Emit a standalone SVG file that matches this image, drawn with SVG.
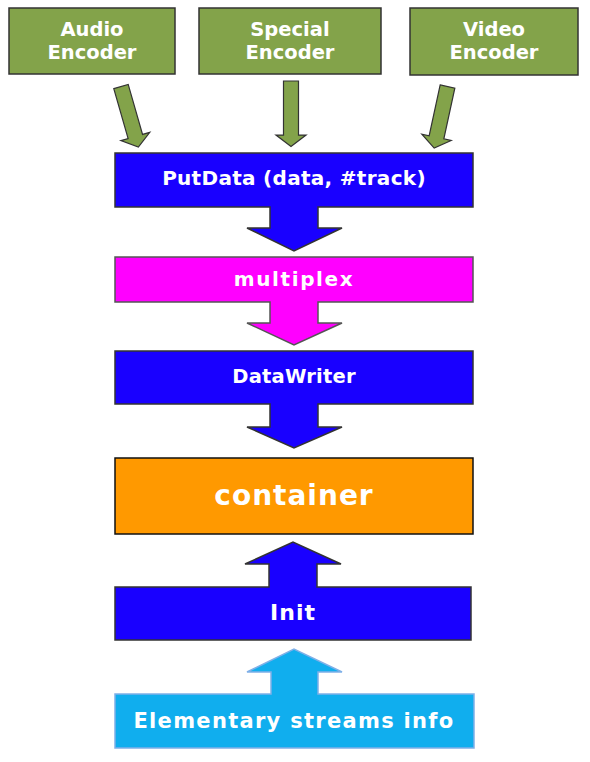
<svg xmlns="http://www.w3.org/2000/svg" width="590" height="762" viewBox="0 0 590 762">
<style>
text{font-family:"DejaVu Sans","Verdana",sans-serif;font-weight:bold;fill:#fff;text-anchor:middle}
.enc{fill:#83A34A;stroke:#333;stroke-width:1.5}
.garrow{fill:#83A34A;stroke:#333;stroke-width:1.2}
.blue{fill:#1900FF;stroke:#333;stroke-width:1.5}
.t19{font-size:19.5px}
</style>
<defs>
<path id="garr" d="M-7.5,0 H7.5 V52 H15 L0,63 L-15,52 H-7.5 Z"/>
</defs>
<rect width="590" height="762" fill="#fff"/>
<g id="audio-encoder">
<rect class="enc" x="9" y="8" width="166" height="66"/>
<text class="t19" x="92" y="36">Audio</text>
<text class="t19" x="92" y="59">Encoder</text>
</g>
<g id="special-encoder">
<rect class="enc" x="199" y="8" width="182" height="66"/>
<text class="t19" x="290" y="36">Special</text>
<text class="t19" x="290" y="59">Encoder</text>
</g>
<g id="video-encoder">
<rect class="enc" x="410" y="8" width="168" height="67"/>
<text class="t19" x="494" y="36">Video</text>
<text class="t19" x="494" y="59">Encoder</text>
</g>
<g id="connectors">
<use href="#garr" class="garrow" transform="translate(121,86.5) rotate(-16)"/>
<use href="#garr" class="garrow" transform="translate(291,81) scale(1,1.04)"/>
<use href="#garr" class="garrow" transform="translate(447.5,86.5) rotate(12.2)"/>
</g>
<g id="putdata">
<path class="blue" d="M115,153 H473 V207 H318 V228 H342 L294,251 L247,228 H270 V207 H115 Z"/>
<text x="294" y="185" font-size="20" letter-spacing="0.3">PutData (data, #track)</text>
</g>
<g id="multiplex">
<path fill="#FF00FF" stroke="#555" stroke-width="1.5" d="M115,257 H473 V302 H318 V323 H342 L294,345 L247,323 H270 V302 H115 Z"/>
<text x="294" y="286" font-size="20" letter-spacing="1.6">multiplex</text>
</g>
<g id="datawriter">
<path class="blue" d="M115,351 H473 V404 H318 V427 H342 L294,448 L247,427 H270 V404 H115 Z"/>
<text x="294" y="383" font-size="19.5" letter-spacing="0.2">DataWriter</text>
</g>
<g id="container">
<rect x="115" y="458" width="358" height="76" fill="#FF9900" stroke="#111" stroke-width="1.5"/>
<text x="294" y="505" font-size="28" letter-spacing="1">container</text>
</g>
<g id="init">
<path class="blue" d="M115,587 H269 V564 H245 L293,542 L341,564 H317 V587 H471 V640 H115 Z"/>
<text x="293" y="620" font-size="22" letter-spacing="1">Init</text>
</g>
<g id="elementary-streams-info">
<path fill="#10AEEE" stroke="#7FB0E8" stroke-width="1.5" d="M115,694 H271 V672 H247 L294,649 L342,672 H318 V694 H474 V748 H115 Z"/>
<text x="294" y="728" font-size="21" letter-spacing="1.3">Elementary streams info</text>
</g>
</svg>
